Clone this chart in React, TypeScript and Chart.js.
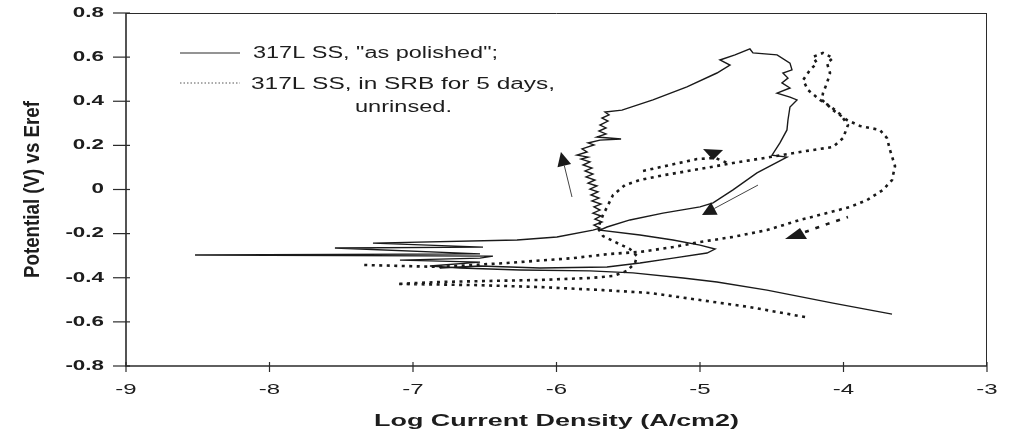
import { useEffect, useRef } from "react";
import { Chart, registerables } from "chart.js";

Chart.register(...registerables);

// ---- data (log current density, potential) ----
const polishedLogI = [
  -3.662, -4.073, -4.533, -4.882, -5.118, -5.467, -5.767, -6.254, -6.672, -6.882,
  -6.533, -7.091, -6.533, -6.443, -8.519, -6.533, -7.544, -6.512, -7.279, -6.275,
  -5.997, -5.746,
  -5.697, -5.739, -5.683, -5.732, -5.69, -5.746, -5.697, -5.739, -5.69, -5.753,
  -5.704, -5.76, -5.711, -5.767, -5.718, -5.78, -5.732, -5.794, -5.746, -5.801,
  -5.753, -5.815, -5.767, -5.829, -5.78, -5.857, -5.787, -5.822, -5.739, -5.78,
  -5.697, -5.55, -5.718, -5.655, -5.704, -5.655, -5.697, -5.641, -5.683, -5.634,
  -5.662, -5.544,
  -5.328, -5.091, -4.882, -4.791, -4.861, -4.756, -4.652, -4.631, -4.463, -4.373,
  -4.359, -4.422, -4.387, -4.429, -4.373, -4.463, -4.373, -4.324, -4.373, -4.387,
  -4.394, -4.443, -4.498, -4.394, -4.603, -4.77, -4.909, -5.0, -5.258, -5.488,
  -5.648, -5.697, -5.418, -5.188, -5.0, -4.895, -4.951, -5.188, -5.418, -5.648,
  -6.115, -6.533, -6.812,
];
const polishedE = [
  -0.565, -0.515, -0.456, -0.419, -0.401, -0.378, -0.369, -0.365, -0.356, -0.347,
  -0.329, -0.32, -0.311, -0.302, -0.297, -0.292, -0.265, -0.261, -0.243, -0.229,
  -0.215, -0.184,
  -0.175, -0.161, -0.147, -0.134, -0.12, -0.107, -0.093, -0.079, -0.066, -0.052,
  -0.039, -0.025, -0.011, 0.002, 0.016, 0.029, 0.043, 0.057, 0.07, 0.084,
  0.097, 0.111, 0.125, 0.138, 0.147, 0.156, 0.17, 0.184, 0.202, 0.211,
  0.224, 0.229, 0.238, 0.252, 0.265, 0.279, 0.292, 0.31, 0.324, 0.338,
  0.351, 0.36,
  0.406, 0.465, 0.528, 0.564, 0.587, 0.61, 0.637, 0.619, 0.61, 0.573,
  0.542, 0.528, 0.505, 0.483, 0.46, 0.437, 0.419, 0.406, 0.374, 0.315,
  0.27, 0.211, 0.156, 0.147, 0.075, -0.002, -0.061, -0.079, -0.107, -0.138,
  -0.17, -0.184, -0.206, -0.229, -0.252, -0.27, -0.288, -0.311, -0.333, -0.351,
  -0.356, -0.347, -0.356,
];

const srbLogI = [
  -4.268, -4.652, -5.0, -5.348, -5.676, -6.115, -6.582, -7.111, -6.812, -6.115,
  -5.767, -5.606, -5.509, -5.453, -5.439, -5.488, -5.592, -5.676, -5.711, -5.676,
  -5.606, -5.523, -5.418, -5.244, -5.0, -4.77, -4.512, -4.303, -4.073, -4.003,
  -3.969, -4.024, -4.094, -4.164, -4.247, -4.282, -4.233, -4.185, -4.213, -4.143,
  -4.073, -4.115, -4.094, -4.115, -4.143, -4.15, -4.073, -3.976, -3.885, -3.746,
  -3.697, -3.676, -3.641, -3.662, -3.725, -3.836, -3.955, -4.115, -4.303, -4.533,
  -4.77, -5.0, -5.188, -5.418, -5.627, -5.885, -6.345, -6.812, -7.348,
];
const srbE = [
  -0.578, -0.533, -0.501, -0.469, -0.456, -0.442, -0.433, -0.428, -0.419, -0.41,
  -0.401, -0.392, -0.369, -0.333, -0.302, -0.27, -0.238, -0.211, -0.175, -0.116,
  -0.025, 0.02, 0.043, 0.066, 0.093, 0.12, 0.147, 0.17, 0.193, 0.233,
  0.292, 0.342, 0.378, 0.406, 0.451, 0.496, 0.542, 0.573, 0.601, 0.619,
  0.596, 0.573, 0.528, 0.483, 0.437, 0.406, 0.36, 0.315, 0.288, 0.27,
  0.233, 0.179, 0.106, 0.043, -0.002, -0.048, -0.079, -0.107, -0.138, -0.184,
  -0.215, -0.238, -0.261, -0.283, -0.292, -0.311, -0.333, -0.351, -0.342,
];

const srbArcLogI = [-5.397, -5.209, -5.021, -4.895, -4.791];
const srbArcE = [0.084, 0.111, 0.138, 0.143, 0.116];

const srbTailLogI = [-4.268, -4.115, -3.969];
const srbTailE = [-0.193, -0.157, -0.125];

// ---- annotations (data coordinates) ----
const arrowFromLogI = [-5.892, -4.596];
const arrowFromE = [-0.034, 0.02];
const arrowToLogI = [-5.969, -4.986];
const arrowToE = [0.17, -0.116];
const triangleLogI = [-4.909, -4.331];
const triangleE = [0.161, -0.202];
const triangleDir = ["down", "up"];

// ---- axes text ----
const xTickValues = [-9, -8, -7, -6, -5, -4, -3];
const xTickLabels = ["-9", "-8", "-7", "-6", "-5", "-4", "-3"];
const yTickValues = [0.8, 0.6, 0.4, 0.2, 0, -0.2, -0.4, -0.6, -0.8];
const yTickLabels = ["0.8", "0.6", "0.4", "0.2", "0", "-0.2", "-0.4", "-0.6", "-0.8"];
const xTitle = "Log Current Density (A/cm2)";
const yTitle = "Potential (V) vs Eref";
const legendLabels = ['317L SS, "as polished";', "317L SS, in SRB for 5 days,", "unrinsed."];

const zip = (xs: number[], ys: number[]) => xs.map((x, i) => ({ x, y: ys[i] }));

const FONT = "'Liberation Sans', Arial, sans-serif";
const INK = "#1d1d1d";

function drawText(ctx: CanvasRenderingContext2D, text: string, x: number, y: number, font: string,
  align: CanvasTextAlign, sx: number, sy = 1) {
  ctx.save();
  ctx.font = font;
  ctx.fillStyle = INK;
  ctx.textBaseline = "middle";
  ctx.textAlign = align;
  ctx.translate(x, y);
  ctx.scale(sx, sy);
  ctx.fillText(text, 0, 0);
  ctx.restore();
}

function fitText(ctx: CanvasRenderingContext2D, text: string, x: number, y: number, font: string,
  width: number, align: CanvasTextAlign) {
  ctx.save();
  ctx.font = font;
  const w = ctx.measureText(text).width;
  ctx.restore();
  drawText(ctx, text, x, y, font, align, width / w);
}

const decor = {
  id: "decor",
  afterDraw(chart: any) {
    const { ctx, chartArea: a } = chart;
    const xs = chart.scales.x;
    const ys = chart.scales.y;
    ctx.save();
    ctx.strokeStyle = "#2b2b2b";
    ctx.fillStyle = INK;

    // frame
    ctx.lineWidth = 1;
    ctx.beginPath();
    ctx.moveTo(a.left, a.top + 0.5);
    ctx.lineTo(a.right, a.top + 0.5);
    ctx.moveTo(a.right - 0.5, a.top);
    ctx.lineTo(a.right - 0.5, a.bottom);
    ctx.stroke();
    ctx.lineWidth = 1.6;
    ctx.beginPath();
    ctx.moveTo(a.left, a.top);
    ctx.lineTo(a.left, a.bottom);
    ctx.lineTo(a.right, a.bottom);
    ctx.stroke();

    // y ticks
    ctx.lineWidth = 1.2;
    yTickValues.forEach((v, i) => {
      const py = ys.getPixelForValue(v);
      ctx.beginPath();
      ctx.moveTo(a.left - 13, py);
      ctx.lineTo(a.left + 4, py);
      ctx.stroke();
      drawText(ctx, yTickLabels[i], a.left - 22, py, `bold 14px ${FONT}`, "right", 1.6);
    });
    // x ticks
    xTickValues.forEach((v, i) => {
      const px = xs.getPixelForValue(v);
      ctx.beginPath();
      ctx.moveTo(px, a.bottom - 4);
      ctx.lineTo(px, a.bottom + 6);
      ctx.stroke();
      drawText(ctx, xTickLabels[i], px, a.bottom + 24, `15px ${FONT}`, "center", 1.6);
    });

    // titles
    fitText(ctx, xTitle, (a.left + a.right) / 2, 421, `bold 17px ${FONT}`, 365, "center");
    ctx.save();
    ctx.font = `bold 16px ${FONT}`;
    const tw = ctx.measureText(yTitle).width;
    ctx.translate(33, (a.top + a.bottom) / 2);
    ctx.rotate(-Math.PI / 2);
    ctx.scale(177 / tw, 1.35);
    ctx.fillStyle = INK;
    ctx.textAlign = "center";
    ctx.textBaseline = "middle";
    ctx.fillText(yTitle, 0, 0);
    ctx.restore();

    // legend
    ctx.lineWidth = 1.2;
    ctx.beginPath();
    ctx.moveTo(180, 53);
    ctx.lineTo(240, 53);
    ctx.stroke();
    ctx.save();
    ctx.strokeStyle = "#555";
    ctx.lineWidth = 1;
    ctx.setLineDash([1.5, 2]);
    ctx.beginPath();
    ctx.moveTo(180, 83);
    ctx.lineTo(240, 83);
    ctx.stroke();
    ctx.restore();
    fitText(ctx, legendLabels[0], 253, 54, `16px ${FONT}`, 245, "left");
    fitText(ctx, legendLabels[1], 251, 85, `16px ${FONT}`, 304, "left");
    fitText(ctx, legendLabels[2], 355, 108, `16px ${FONT}`, 97, "left");

    // arrows
    ctx.strokeStyle = "#444";
    ctx.fillStyle = "#1a1a1a";
    ctx.lineWidth = 1;
    arrowFromLogI.forEach((_, i) => {
      const x0 = xs.getPixelForValue(arrowFromLogI[i]);
      const y0 = ys.getPixelForValue(arrowFromE[i]);
      const x1 = xs.getPixelForValue(arrowToLogI[i]);
      const y1 = ys.getPixelForValue(arrowToE[i]);
      const ang = Math.atan2(y1 - y0, x1 - x0);
      const len = 14;
      const hw = 7;
      const bx = x1 - len * Math.cos(ang);
      const by = y1 - len * Math.sin(ang);
      ctx.beginPath();
      ctx.moveTo(x0, y0);
      ctx.lineTo(bx, by);
      ctx.stroke();
      ctx.beginPath();
      ctx.moveTo(x1, y1);
      ctx.lineTo(bx - hw * Math.sin(ang), by + hw * Math.cos(ang));
      ctx.lineTo(bx + hw * Math.sin(ang), by - hw * Math.cos(ang));
      ctx.closePath();
      ctx.fill();
    });

    // triangles
    triangleLogI.forEach((_, i) => {
      const cx = xs.getPixelForValue(triangleLogI[i]);
      const cy = ys.getPixelForValue(triangleE[i]);
      ctx.beginPath();
      if (triangleDir[i] === "down") {
        ctx.moveTo(cx - 10, cy - 5);
        ctx.lineTo(cx + 10, cy - 4);
        ctx.lineTo(cx, cy + 6);
      } else {
        ctx.moveTo(cx - 11, cy + 5);
        ctx.lineTo(cx + 11, cy + 5);
        ctx.lineTo(cx + 4, cy - 6);
      }
      ctx.closePath();
      ctx.fill();
    });

    ctx.restore();
  },
};

export default function App() {
  const ref = useRef<HTMLCanvasElement | null>(null);
  useEffect(() => {
    if (!ref.current) return;
    const dotted = {
      showLine: true,
      borderColor: "#1a1a1a",
      borderWidth: 2.6,
      borderDash: [3, 4.5],
      pointRadius: 0,
      fill: false,
    };
    const chart = new Chart(ref.current, {
      type: "scatter",
      data: {
        datasets: [
          {
            label: legendLabels[0],
            data: zip(polishedLogI, polishedE),
            showLine: true,
            borderColor: "#1a1a1a",
            borderWidth: 1.4,
            pointRadius: 0,
            fill: false,
          },
          { label: legendLabels[1], data: zip(srbLogI, srbE), ...dotted },
          { label: "arc", data: zip(srbArcLogI, srbArcE), ...dotted },
          { label: "tail", data: zip(srbTailLogI, srbTailE), ...dotted, borderDash: [4, 7] },
        ],
      },
      options: {
        animation: false,
        responsive: false,
        devicePixelRatio: 1,
        events: [],
        layout: { padding: { left: 0, top: 13, right: 28, bottom: 0 } },
        plugins: { legend: { display: false }, tooltip: { enabled: false } },
        scales: {
          x: {
            type: "linear",
            min: -9,
            max: -3,
            ticks: { display: false },
            grid: { display: false },
            border: { display: false },
            afterFit: (s: any) => { s.height = 71; },
          },
          y: {
            type: "linear",
            min: -0.8,
            max: 0.8,
            ticks: { display: false },
            grid: { display: false },
            border: { display: false },
            afterFit: (s: any) => { s.width = 126; },
          },
        },
      } as any,
      plugins: [decor],
    });
    return () => chart.destroy();
  }, []);
  return (
    <div style={{ position: "absolute", left: 0, top: 0, width: 1015, height: 437, background: "#fff" }}>
      <canvas ref={ref} width={1015} height={437} />
    </div>
  );
}
